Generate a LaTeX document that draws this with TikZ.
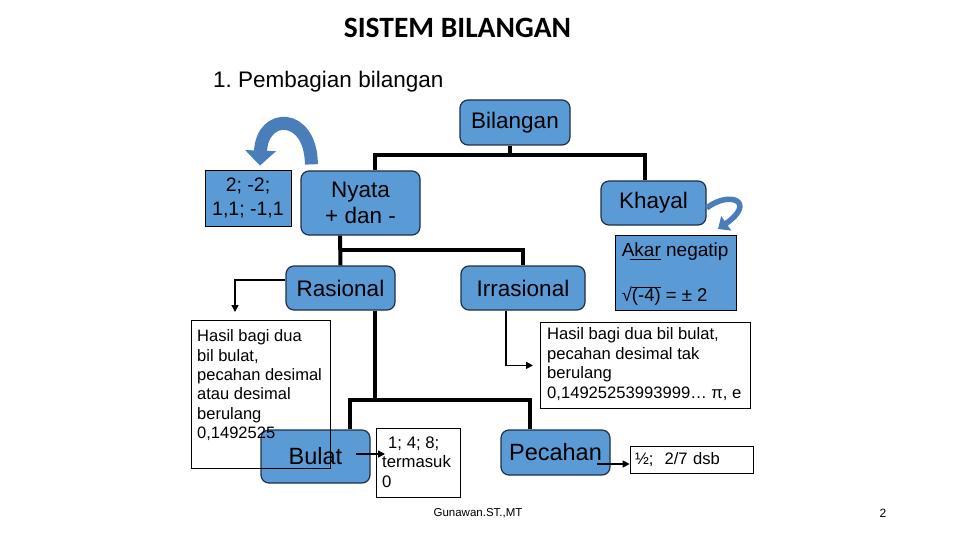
\documentclass[tikz,border=0pt]{standalone}
\usepackage{fontspec}
\setmainfont{Liberation Sans}
\newfontfamily\judulfont{Carlito}
\usetikzlibrary{arrows.meta}
\definecolor{biru}{HTML}{5B9BD5}
\definecolor{birutua}{HTML}{4A7EBB}
\definecolor{tepi}{HTML}{1F2F45}
\newcommand{\ukuran}[2]{\fontsize{#1}{#2}\selectfont}
\frenchspacing

\begin{document}
\begin{tikzpicture}[
    x=1pt, y=-1pt,
    blok/.style={draw=tepi, fill=biru, rounded corners=8pt, line width=1.2pt,
                 inner sep=0pt, align=center, font=\ukuran{22.5}{26}},
    kotak/.style={draw=black, fill=biru, line width=0.8pt, inner sep=0pt, align=center},
    ket/.style={draw=black, line width=0.8pt, inner sep=0pt, anchor=north west},
    teks/.style={inner sep=0pt, align=left, anchor=north west},
    garis/.style={line width=4pt},
    panah/.style={-{Triangle[width=7pt,length=7pt]}, line width=1.4pt},
    lengkung/.style={birutua, line width=13pt, -{Triangle[width=30pt,length=15pt]}}
]
\useasboundingbox (0,0) rectangle (960,540);

% judul
\node[font=\judulfont\bfseries\ukuran{29.5}{34}] (judul) at (457.5,28) {SISTEM BILANGAN};
\node[anchor=west, inner sep=0pt, font=\ukuran{22.5}{26}] (subjudul) at (213,82) {1. Pembagian bilangan};

% kotak biru
\node[blok, minimum width=110pt, minimum height=45pt] (bilangan) at (515,122.5) {Bilangan};
\node[blok, minimum width=119pt, minimum height=64pt] (nyata) at (360.5,203) {Nyata\\+ dan -};
\node[blok, minimum width=105pt, minimum height=44pt] (khayal) at (653.5,203) {Khayal};
\node[kotak, minimum width=86pt, minimum height=56pt, font=\ukuran{19.5}{24}] (contoh) at (248,198) {2; -2;\\1,1; -1,1};
\node[kotak, minimum width=121pt, minimum height=75pt] (akar) at (675.5,272.5) {};
\node[inner sep=0pt, anchor=base west, font=\ukuran{19}{22}] (teksakar1) at ([xshift=7pt,yshift=-21.7pt]akar.north west) {Akar negatip};
\node[inner sep=0pt, anchor=base west, font=\ukuran{18.5}{21}] (teksakar2) at ([xshift=7pt,yshift=8.5pt]akar.south west) {√\(\overline{\mbox{(-4)}}\) = ± 2};
\draw[line width=0.8pt] ([xshift=15pt,yshift=-25pt]akar.north west) -- ([xshift=46pt,yshift=-25pt]akar.north west);
\node[blok, minimum width=109pt, minimum height=44pt] (rasional) at (340.5,288) {Rasional};
\node[blok, minimum width=124pt, minimum height=44pt] (irrasional) at (523,288) {Irrasional};
\node[blok, minimum width=109pt, minimum height=53pt, font=\ukuran{23.5}{27}] (bulat) at (315.5,456.5) {Bulat};
\node[blok, minimum width=109pt, minimum height=45pt, font=\ukuran{23.5}{27}] (pecahan) at (555.5,452.5) {Pecahan};

% kotak keterangan
\node[ket, minimum width=139pt, minimum height=148pt] (ketrasional) at (191,320) {};
\node[teks, font=\ukuran{16.5}{19.3}] (teksrasional) at ([xshift=6pt,yshift=-9.7pt]ketrasional.north west)
    {Hasil bagi dua\\bil bulat,\\pecahan desimal\\atau desimal\\berulang\\0,1492525};
\node[ket, fill=white, minimum width=210pt, minimum height=86pt] (ketirrasional) at (540,322) {};
\node[teks, font=\ukuran{16.6}{19.7}] (teksirrasional) at ([xshift=7pt,yshift=-5.2pt]ketirrasional.north west)
    {Hasil bagi dua bil bulat,\\pecahan desimal tak\\berulang\\0,14925253993999\dots\ π, e};
\node[ket, fill=white, minimum width=84pt, minimum height=69pt] (contohbulat) at (376,428) {};
\node[teks, font=\ukuran{16.7}{19.5}] (teksbulat) at ([xshift=6pt,yshift=-8.3pt]contohbulat.north west)
    {\hspace*{6pt}1; 4; 8;\\termasuk\\0};
\node[ket, fill=white, anchor=center, minimum width=123pt, minimum height=27pt,
      text width=113pt, align=left, font=\ukuran{16.6}{19}] (contohpecahan) at (691.5,459.5) {½;~~2/7 dsb};

% garis tebal
\coordinate (cabang1) at (510,155);
\coordinate (cabang2) at (340,250);
\coordinate (cabang3) at (375,400);
\draw[garis] ([xshift=-5pt]bilangan.south) -- (cabang1);
\draw[garis] ([xshift=14.5pt]nyata.north) |- (cabang1) -| ([xshift=-8.5pt]khayal.north);
\draw[garis] ([xshift=-20.5pt]nyata.south) -- (rasional.north);
\draw[garis] (cabang2) -| (irrasional.north);
\draw[garis] ([xshift=34.5pt]rasional.south) -- (cabang3);
\draw[garis] ([xshift=34.5pt]bulat.north) |- (cabang3) -| ([xshift=-25.5pt]pecahan.north);

% panah tipis
\coordinate (ujungrasional) at (235,312);
\draw[panah] ([yshift=8pt]rasional.west) -| (ujungrasional);
\draw[panah] ([xshift=-17pt]irrasional.south) |- ([xshift=-7pt]ketirrasional.west);
\draw[panah] ([xshift=-15pt,yshift=2.5pt]bulat.east) -- ([xshift=9pt,yshift=2.5pt]bulat.east -| contohbulat.west);
\draw[panah] ([xshift=-14pt,yshift=-11.5pt]pecahan.east) -- ([yshift=-4.5pt]contohpecahan.west);

% panah lengkung
\draw[lengkung] ([xshift=11pt,yshift=6pt]nyata.north west) .. controls (311,112) and (262,112) .. ([xshift=12pt,yshift=4pt]contoh.north);
\draw[birutua, line width=5.5pt, -{Triangle[width=17pt,length=10pt]}] ([yshift=-5pt]khayal.east)
    .. controls (730,190) and (757,202) .. (718,229);

% kaki halaman
\node[font=\ukuran{11.5}{14}] (penulis) at (478,513) {Gunawan.ST.,MT};
\node[font=\ukuran{12}{14}] (halaman) at (883,513) {2};
\end{tikzpicture}
\end{document}
